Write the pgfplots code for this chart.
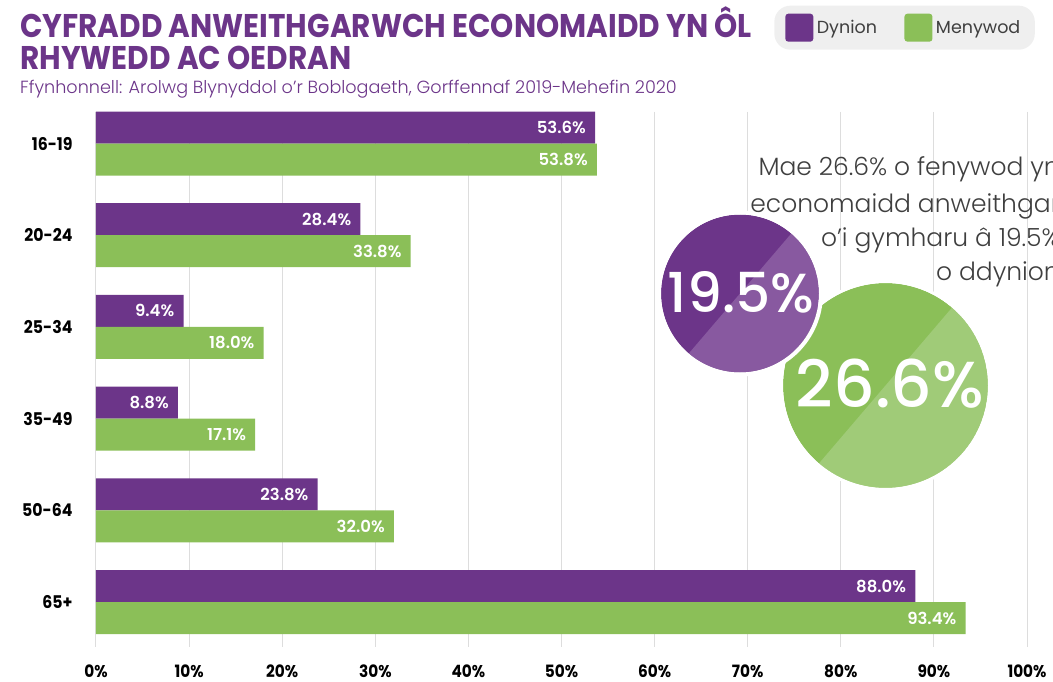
\documentclass[border=0pt]{standalone}
\usepackage{pgfplots}
\pgfplotsset{compat=1.18}
\usepackage{fontspec}
\setmainfont{Poppins}
\newfontfamily\popb{Poppins}[FakeStretch=0.9]
\newfontfamily\popr{Poppins}
\newfontfamily\popl{Poppins Light}
\newfontfamily\popm{Poppins Medium}
\newfontfamily\pops{Poppins SemiBold}
\definecolor{cpurple}{HTML}{6C3589}
\definecolor{cpurplel}{HTML}{8859A0}
\definecolor{cgreen}{HTML}{8BBF58}
\definecolor{cgreenl}{HTML}{A0CB78}
\definecolor{cgrid}{HTML}{DDDDDD}
\definecolor{ctext}{HTML}{3F3F3F}
\definecolor{clegbg}{HTML}{EFEFEF}
\begin{document}
\begin{tikzpicture}
\useasboundingbox (0,0) rectangle (1053pt,-682pt);
\clip (0,0) rectangle (1053pt,-682pt);
\begin{axis}[
  at={(561.5pt,-379.25pt)}, anchor=center,
  width=931pt, height=535.5pt, scale only axis,
  xbar, bar width=32pt,
  xmin=0, xmax=100, ymin=-0.349, ymax=5.49, y dir=reverse,
  axis line style={draw=none}, major tick style={draw=none},
  xmajorgrids, grid style={cgrid, line width=1pt},
  xtick={0,10,...,100},
  xticklabel={\pgfmathprintnumber[assume math mode=true]{\tick}\%},
  xticklabel style={anchor=base, yshift=-30pt, inner sep=0pt, font=\popb\bfseries\fontsize{17}{17}\selectfont},
  ytick={0,...,5}, yticklabels={16-19,20-24,25-34,35-49,50-64,65+},
  yticklabel style={anchor=east, inner sep=0pt, xshift=-19pt, font=\popb\bfseries\fontsize{17.5}{17.5}\selectfont},
  point meta=x,
  nodes near coords={\pgfmathprintnumber[fixed,fixed zerofill,precision=1,assume math mode=true]{\pgfplotspointmeta}\%},
  nodes near coords style={anchor=east, inner sep=0pt, xshift=-9pt, text=white, font=\pops\fontsize{16.5}{16.5}\selectfont},
  legend columns=2,
  legend style={at={(1.0086,1.198)}, anchor=north east, fill=clegbg, draw=none, rounded corners=16pt,
    inner xsep=11pt, inner ysep=8pt, font=\popr\fontsize{17.5}{17.5}\selectfont, text=ctext,
    /tikz/every even column/.append style={column sep=24pt},
    nodes={inner xsep=3.5pt, inner ysep=2pt}},
  legend image code/.code={\fill[rounded corners=3pt] (0pt,-14pt) rectangle (28pt,14pt);},
]
\addplot[fill=cpurple, draw=none, bar shift=16pt] coordinates {(53.6,0) (28.4,1) (9.4,2) (8.8,3) (23.8,4) (88.0,5)};
\addplot[fill=cgreen, draw=none, bar shift=-16pt] coordinates {(53.8,0) (33.8,1) (18.0,2) (17.1,3) (32.0,4) (93.4,5)};
\legend{Dynion, Menywod}
\end{axis}
\begin{scope}[x=1pt,y=-1pt]
% titles
\node[anchor=base west, inner sep=0pt, text=cpurple, font=\popb\bfseries\fontsize{32.8}{32.8}\selectfont] at (20,38) {CYFRADD ANWEITHGARWCH ECONOMAIDD YN ÔL};
\node[anchor=base west, inner sep=0pt, text=cpurple, font=\popb\bfseries\fontsize{32.8}{32.8}\selectfont] at (20,70) {RHYWEDD AC OEDRAN};
\node[anchor=base west, inner sep=0pt, text=cpurple, font=\popl\fontsize{17.6}{17.6}\selectfont] at (20,94) {Ffynhonnell: Arolwg Blynyddol o’r Boblogaeth, Gorffennaf 2019-Mehefin 2020};
% annotation
\begin{scope}[every node/.style={anchor=base east, inner sep=0pt, text=ctext, font=\popl\fontsize{25}{25}\selectfont}]
\node at (1060,176) {Mae 26.6\% o fenywod yn};
\node at (1060,212) {economaidd anweithgar};
\node at (1060,247) {o’i gymharu â 19.5\%};
\node at (1060,280) {o ddynion};
\end{scope}
% green circle
\begin{scope}
\clip (885.5,385.5) circle (102.5);
\fill[cgreen] (885.5,385.5) circle (102.5);
\fill[cgreenl] (1015.3,233.5) -- (755.7,537.5) -- (907.7,667.3) -- (1167.3,363.3) -- cycle;
\end{scope}
\draw[white, line width=3pt] (885.5,385.5) circle (104);
% purple circle
\begin{scope}
\clip (740,293.5) circle (79);
\fill[cpurple] (740,293.5) circle (79);
\fill[cpurplel] (837.4,179.5) -- (642.6,407.5) -- (756.6,504.9) -- (951.4,276.9) -- cycle;
\end{scope}
\draw[white, line width=4pt] (740,293.5) circle (81);
\node[text=white, inner sep=0pt, font=\popm\fontsize{55}{55}\selectfont] at (741,292) {19.5\%};
\node[text=white, inner sep=0pt, font=\popm\fontsize{65}{65}\selectfont] at (890,383.5) {26.6\%};
\end{scope}
\end{tikzpicture}
\end{document}
